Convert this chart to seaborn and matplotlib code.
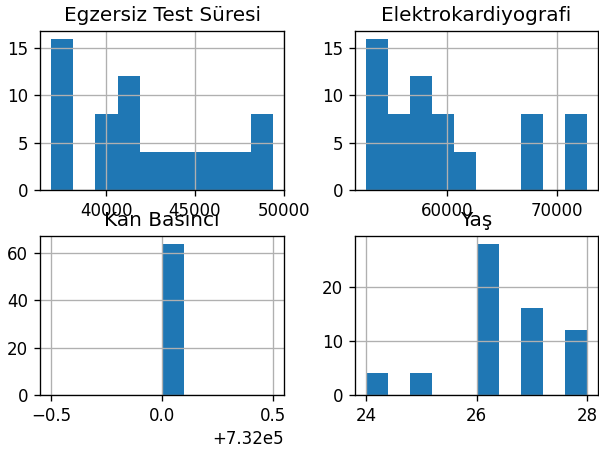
import numpy as np
import pandas as pd
import matplotlib
matplotlib.use("Agg")
import matplotlib.pyplot as plt
import seaborn as sns

# Raw records (64 rows)
egzersiz = [36900, 37200, 37500, 37800, 39600, 40200, 40800, 41200, 41600, 42500,
            43800, 45000, 46300, 47500, 48600, 49400] * 4
elektro = [52700, 53200, 53800, 54300, 55200, 56100, 57000, 57800, 58400, 59200,
           60300, 61500, 67200, 68100, 71300, 72700] * 4
kan = [732000] * 64
yas = [24, 25, 26, 26, 26, 26, 26, 26, 26, 27, 27, 27, 27, 28, 28, 28] * 4

titles = ["Egzersiz Test Süresi", "Elektrokardiyografi", "Kan Basıncı", "Yaş"]

df = pd.DataFrame({titles[0]: egzersiz, titles[1]: elektro,
                   titles[2]: kan, titles[3]: yas})

DPI = 120
W, H = 599, 452
fig = plt.figure(figsize=(W / DPI, H / DPI), dpi=DPI)

boxes = [(40, 31, 284, 190), (355, 31, 598, 190),
         (40, 236, 284, 395), (355, 236, 598, 395)]

for col, (l, t, r, b) in zip(titles, boxes):
    ax = fig.add_axes([l / W, 1 - b / H, (r - l) / W, (b - t) / H])
    sns.histplot(data=df, x=col, bins=10, ax=ax, color="#1f77b4",
                 alpha=1.0, linewidth=0, edgecolor="none")
    ax.set_title(col, fontsize=12)
    ax.set_xlabel("")
    ax.set_ylabel("")
    ax.grid(True, color="#b0b0b0", linewidth=0.8)
    for s in ax.spines.values():
        s.set_color("black")
        s.set_linewidth(0.8)

fig.savefig("out.png", dpi=DPI)
